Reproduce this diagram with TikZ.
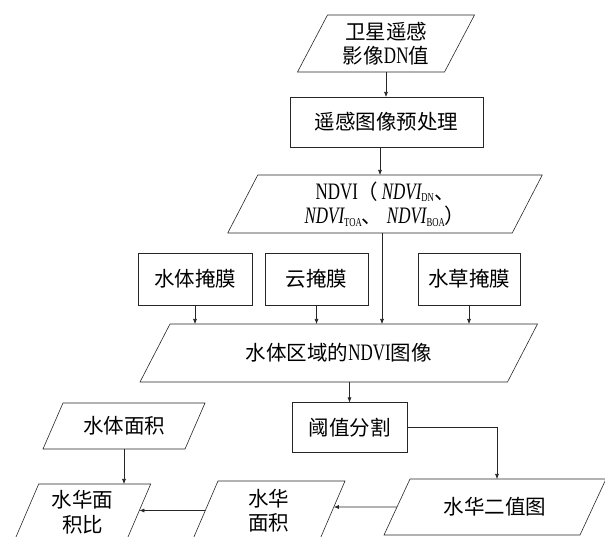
\documentclass[tikz,border=0pt]{standalone}
\usepackage{fontspec}
\setmainfont{Liberation Serif}
\newfontfamily\cjk{Noto Sans CJK SC}
\newfontfamily\latf{Liberation Serif}[Scale=1.15,FakeStretch=0.72]
\usetikzlibrary{arrows.meta,calc}
\newcommand{\subtx}[1]{\raisebox{-2.5pt}{\fontsize{10.5}{10.5}\selectfont\latf #1}}
\tikzset{
  line/.style={draw=black!85, line width=0.6pt},
  conn/.style={line, -{Latex[length=5pt,width=4pt]}},
  boxnode/.style={line, inner sep=0pt, outer sep=0pt, align=center,
    font=\cjk\fontsize{20.5}{25}\selectfont},
  ptext/.style={inner sep=0pt, outer sep=0pt, align=center,
    font=\cjk\fontsize{20.5}{24.5}\selectfont},
}
% #1 name, #2 centre, #3 mid width, #4 height, #5 half slant, #6 text
\newcommand{\pgram}[6]{%
  \node[ptext, minimum width=#3, minimum height=#4] (#1) at #2 {#6};
  \coordinate (#1-nw) at ($(#1.north west)+(#5,0)$);
  \coordinate (#1-ne) at ($(#1.north east)+(#5,0)$);
  \coordinate (#1-se) at ($(#1.south east)-(#5,0)$);
  \coordinate (#1-sw) at ($(#1.south west)-(#5,0)$);
  \draw[line] (#1-nw) -- (#1-ne) -- (#1-se) -- (#1-sw) -- cycle;
}
\begin{document}
\begin{tikzpicture}[x=1pt,y=1pt]
\useasboundingbox (0,0) rectangle (605,537);
\clip (0,0) rectangle (605,537);

\pgram{P1}{(386,493.5)}{147pt}{57pt}{15pt}{卫星遥感\\影像{\latf DN}值}
\node[boxnode, minimum width=193pt, minimum height=50pt] (B1) at (386.5,415) {遥感图像预处理};
\pgram{P2}{(385,333)}{284.5pt}{58pt}{15pt}{{\latf NDVI}（\,{\latf\itshape NDVI}\subtx{DN}、\\{\latf\itshape NDVI}\subtx{TOA}、\ {\latf\itshape NDVI}\subtx{BOA}）}
\node[boxnode, minimum width=114pt, minimum height=52pt] (M1) at (195,258) {水体掩膜};
\node[boxnode, minimum width=103pt, minimum height=52pt] (M2) at (316.5,258) {云掩膜};
\node[boxnode, minimum width=102pt, minimum height=52pt] (M3) at (469,258) {水草掩膜};
\pgram{P3}{(338.75,184)}{367.5pt}{58pt}{15pt}{水体区域的{\latf NDVI}图像}
\node[boxnode, minimum width=115pt, minimum height=50pt] (T) at (349.5,109.5) {阈值分割};
\pgram{P4}{(124,111)}{142pt}{46pt}{10pt}{水体面积}
\pgram{P5}{(82.7,25)}{112pt}{56pt}{12pt}{水华面\\积比}
\pgram{P6}{(268.8,26.5)}{127pt}{59pt}{12.7pt}{水华\\面积}
\pgram{P7}{(495,30)}{196pt}{56pt}{13pt}{水华二值图}

% connectors
\draw[conn] (P1.south) -- (P1.south |- B1.north);
\draw[conn] ([xshift=-6.5pt]B1.south) -- ([xshift=-6.5pt]B1.south |- P2.north);
\draw[conn] ([xshift=-3pt]P2.south) -- ([xshift=-3pt]P2.south |- P3.north);
\draw[conn] (M1.south) -- (M1.south |- P3.north);
\draw[conn] (M2.south) -- (M2.south |- P3.north);
\draw[conn] (M3.south) -- (M3.south |- P3.north);
\draw[conn] (T.north |- P3.south) -- (T.north);
\draw[conn] (T.east) -| ([xshift=2pt]P7.north);
\draw[conn] (P4.south) -- (P4.south |- P5.north);
\coordinate (a10s) at ($(P7-nw)!0.5!(P7-sw)$);
\coordinate (a10e) at (intersection of P6-ne--P6-se and a10s--P7.center);
\draw[conn] (a10s) -- (a10e);
\coordinate (a11s) at ($(P6-nw)!0.5!(P6-sw)$);
\coordinate (a11e) at (intersection of P5-ne--P5-se and a11s--P6.center);
\draw[conn] (a11s) -- (a11e);
\end{tikzpicture}
\end{document}
